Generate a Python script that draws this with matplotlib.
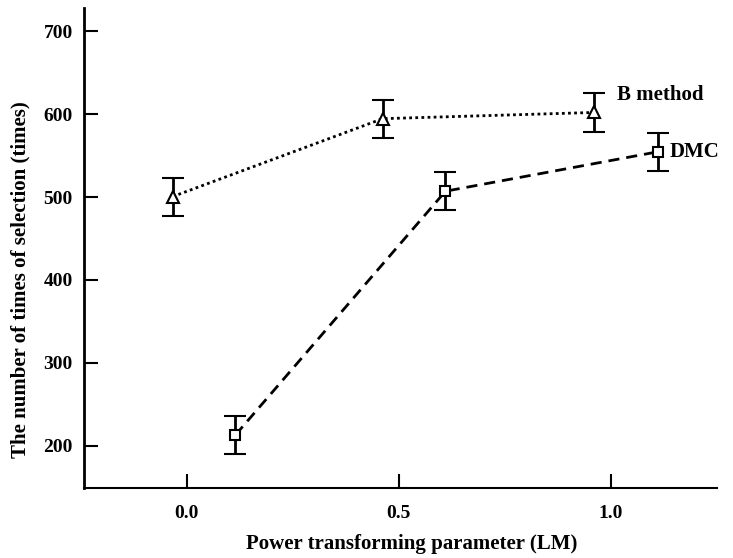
import matplotlib
matplotlib.use("Agg")
import matplotlib.pyplot as plt

# Data
b_x = [-0.033, 0.462, 0.96]
b_y = [500.5, 594.5, 602]
b_err = [23, 23, 23]

dmc_x = [0.115, 0.61, 1.11]
dmc_y = [213, 507, 554.5]
dmc_err = [23, 23, 23]

xticks = [0.0, 0.5, 1.0]
xtick_labels = ["0.0", "0.5", "1.0"]
yticks = [200, 300, 400, 500, 600, 700]

plt.rcParams['font.family'] = ['Liberation Serif', 'DejaVu Serif']

fig = plt.figure(figsize=(7.33, 5.58), dpi=100)
ax = fig.add_axes([84/733, (558-488)/558, (717-84)/733, (488-8)/558])

ax.errorbar(b_x, b_y, yerr=b_err, color='black', linestyle=(0, (1, 1.2)), linewidth=2,
            marker='^', markersize=9, markerfacecolor='white', markeredgecolor='black',
            markeredgewidth=1.5, capsize=8, capthick=2, elinewidth=2)
ax.errorbar(dmc_x, dmc_y, yerr=dmc_err, color='black', linestyle=(0, (4, 2.5)), linewidth=2,
            marker='s', markersize=7, markerfacecolor='white', markeredgecolor='black',
            markeredgewidth=1.5, capsize=8, capthick=2, elinewidth=2)

ax.text(1.014, 623, "B method", fontsize=15, va='center', ha='left', fontweight='bold')
ax.text(1.139, 554, "DMC", fontsize=15, va='center', ha='left', fontweight='bold')

ax.set_xlim(-0.242, 1.25)
ax.set_ylim(149, 728)
ax.set_xticks(xticks)
ax.set_xticklabels(xtick_labels)
ax.set_yticks(yticks)

for s in ['top', 'right']:
    ax.spines[s].set_visible(False)
ax.spines['left'].set_linewidth(2)
ax.spines['bottom'].set_linewidth(1.5)

ax.tick_params(axis='both', direction='in', length=10, width=1.5, labelsize=14)
ax.tick_params(axis='x', pad=12)
ax.tick_params(axis='y', pad=8)
for lab in ax.get_xticklabels() + ax.get_yticklabels():
    lab.set_fontweight('bold')

ax.set_xlabel("Power transforming parameter (LM)", fontsize=15, fontweight='bold')
ax.set_ylabel("The number of times of selection (times)", fontsize=15, fontweight='bold')
ax.xaxis.set_label_coords((412-84)/(717-84), -(544-488)/(488-8))
ax.xaxis.label.set_verticalalignment('center')
ax.yaxis.set_label_coords(-(84-20)/(717-84), (488-280)/(488-8))
ax.yaxis.label.set_verticalalignment('center')

fig.savefig("out.png", dpi=100)
